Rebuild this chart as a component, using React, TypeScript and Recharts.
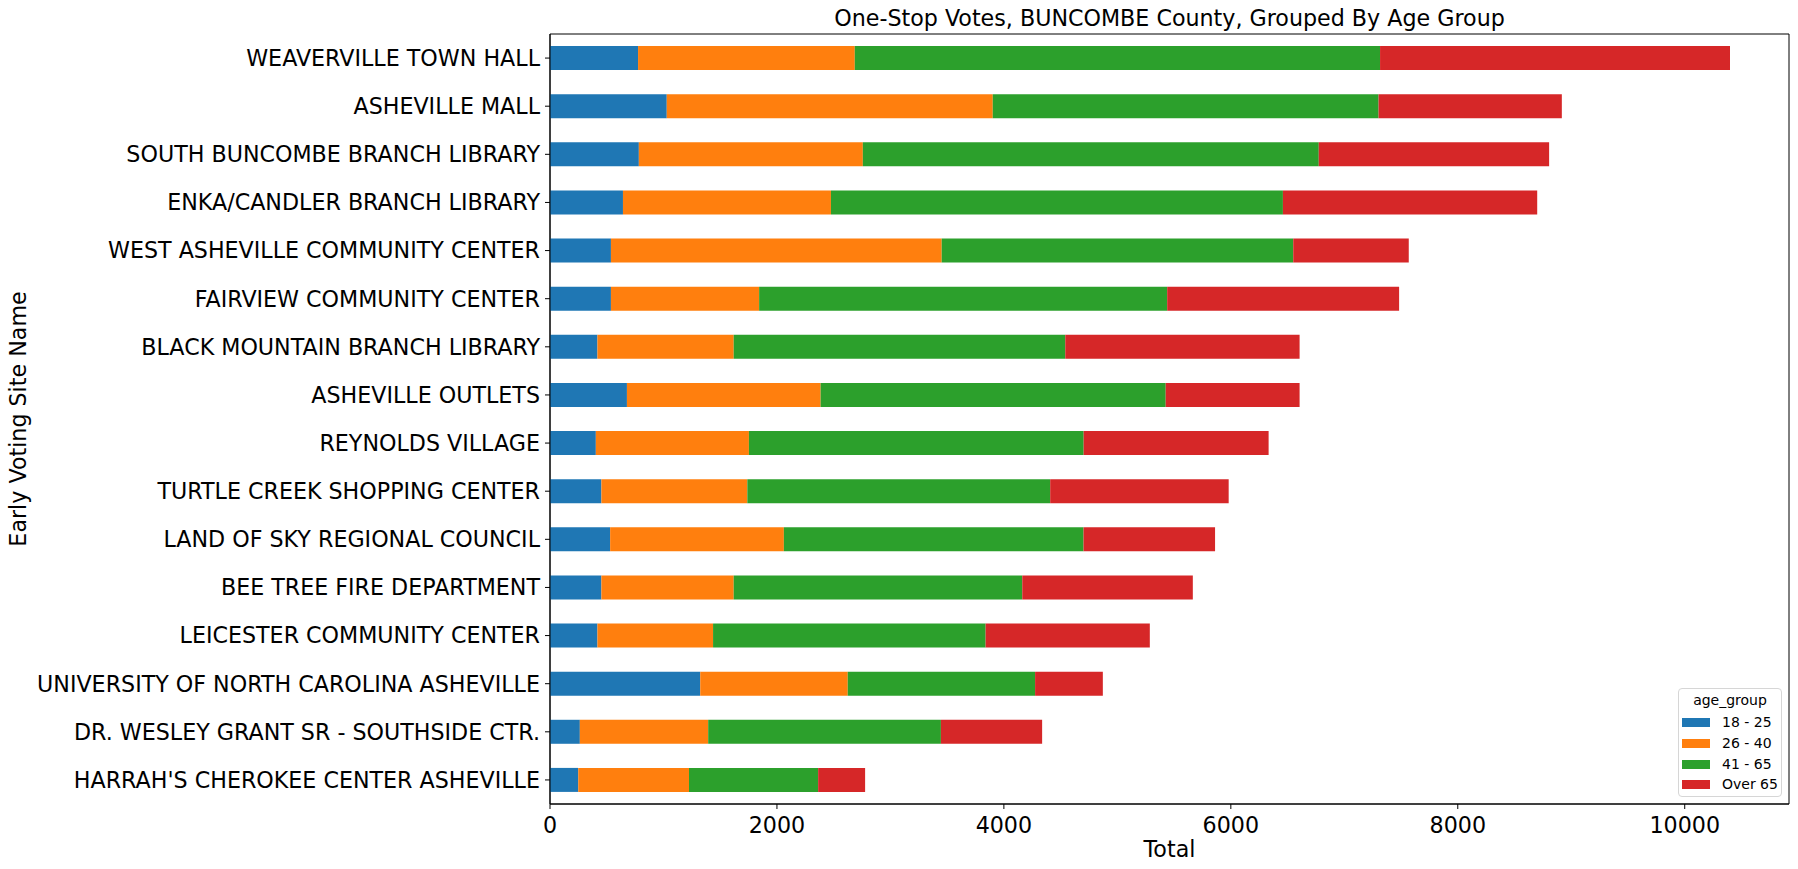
import { BarChart, Bar, XAxis, YAxis, Legend, ReferenceArea, Label } from "recharts";

const SITES = [
  "WEAVERVILLE TOWN HALL",
  "ASHEVILLE MALL",
  "SOUTH BUNCOMBE BRANCH LIBRARY",
  "ENKA/CANDLER BRANCH LIBRARY",
  "WEST ASHEVILLE COMMUNITY CENTER",
  "FAIRVIEW COMMUNITY CENTER",
  "BLACK MOUNTAIN BRANCH LIBRARY",
  "ASHEVILLE OUTLETS",
  "REYNOLDS VILLAGE",
  "TURTLE CREEK SHOPPING CENTER",
  "LAND OF SKY REGIONAL COUNCIL",
  "BEE TREE FIRE DEPARTMENT",
  "LEICESTER COMMUNITY CENTER",
  "UNIVERSITY OF NORTH CAROLINA ASHEVILLE",
  "DR. WESLEY GRANT SR - SOUTHSIDE CTR.",
  "HARRAH'S CHEROKEE CENTER ASHEVILLE",
];

const AGE_18_25 = [776, 1029, 783, 643, 537, 537, 418, 678, 404, 453, 530, 453, 418, 1324, 263, 249];
const AGE_26_40 = [1910, 2873, 1974, 1833, 2915, 1306, 1201, 1707, 1349, 1286, 1531, 1166, 1019, 1300, 1131, 976];
const AGE_41_65 = [4629, 3400, 4018, 3983, 3098, 3596, 2922, 3041, 2950, 2669, 2641, 2543, 2402, 1651, 2051, 1138];
const AGE_OVER_65 = [3084, 1615, 2030, 2241, 1018, 2044, 2065, 1180, 1630, 1573, 1159, 1503, 1447, 597, 892, 414];

const GROUPS = ["18 - 25", "26 - 40", "41 - 65", "Over 65"];
const COLORS = ["#1f77b4", "#ff7f0e", "#2ca02c", "#d62728"];
const X_TICKS = [0, 2000, 4000, 6000, 8000, 10000];

const FONT = "'DejaVu Sans', sans-serif";
const FS = 22.2;

const data = SITES.map((site, i) => ({
  site,
  g0: AGE_18_25[i],
  g1: AGE_26_40[i],
  g2: AGE_41_65[i],
  g3: AGE_OVER_65[i],
}));

// matplotlib pads the value axis by 5% past the longest bar
const totals = data.map((d) => d.g0 + d.g1 + d.g2 + d.g3);
const xMax = Math.max(...totals) * 1.05;

const LegendBox = ({ payload }: any) => (
  <div style={{
    position: "relative", width: 104, height: 109, boxSizing: "border-box",
    border: "1px solid #d6d6d6", borderRadius: 4, background: "rgba(255,255,255,0.8)",
    fontFamily: FONT, fontSize: 14, color: "#000",
  }}>
    <div style={{ position: "absolute", top: 3, left: 0, width: "100%", textAlign: "center", lineHeight: "17px" }}>
      age_group
    </div>
    {(payload || []).map((p: any, i: number) => (
      <div key={i} style={{ position: "absolute", left: 3, top: 25 + i * 20.8, height: 17, display: "flex", alignItems: "center" }}>
        <span style={{ display: "inline-block", width: 28, height: 9, background: p.color, marginRight: 12 }} />
        <span style={{ lineHeight: "17px", whiteSpace: "nowrap" }}>{p.value}</span>
      </div>
    ))}
  </div>
);

export default function App() {
  return (
    <div style={{ position: "absolute", left: 0, top: 0, width: 1798, height: 869, background: "#fff", fontFamily: FONT }}>
      <div style={{
        position: "absolute", left: 550, top: 7, width: 1239, textAlign: "center",
        fontSize: FS, lineHeight: "22px", color: "#000",
      }}>
        One-Stop Votes, BUNCOMBE County, Grouped By Age Group
      </div>
      <BarChart width={1798} height={869} data={data} layout="vertical"
        margin={{ top: 34, right: 9, bottom: 0, left: 0 }} barCategoryGap="25%">
        <XAxis type="number" domain={[0, xMax]} ticks={X_TICKS} height={65} allowDataOverflow
          tickSize={5} tickMargin={8} axisLine={{ stroke: "#000" }} tickLine={{ stroke: "#000" }}
          tick={{ fill: "#000", fontSize: FS, fontFamily: FONT }}>
          <Label content={({ viewBox }: any) => (
            <text x={viewBox.x + viewBox.width / 2} y={viewBox.y + 52.5} textAnchor="middle"
              fontSize={FS} fontFamily={FONT} fill="#000">Total</text>
          )} />
        </XAxis>
        <YAxis type="category" dataKey="site" width={550} interval={0}
          tickSize={5} tickMargin={5} axisLine={{ stroke: "#000" }} tickLine={{ stroke: "#000" }}
          tick={{ fill: "#000", fontSize: FS, fontFamily: FONT }}>
          <Label content={({ viewBox }: any) => {
            const cy = viewBox.y + viewBox.height / 2;
            return (
              <text x={26} y={cy} transform={`rotate(-90 26 ${cy})`} textAnchor="middle"
                fontSize={FS} fontFamily={FONT} fill="#000">Early Voting Site Name</text>
            );
          }} />
        </YAxis>
        {GROUPS.map((g, i) => (
          <Bar key={g} dataKey={`g${i}`} name={g} stackId="age" fill={COLORS[i]} isAnimationActive={false} />
        ))}
        <ReferenceArea x1={0} x2={xMax} fill="none" stroke="#000" strokeWidth={1} fillOpacity={0} />
        <Legend layout="horizontal" verticalAlign="middle" align="center" content={<LegendBox />}
          wrapperStyle={{ position: "absolute", left: 1678, top: 688, width: 104, height: 109 }} />
      </BarChart>
    </div>
  );
}
